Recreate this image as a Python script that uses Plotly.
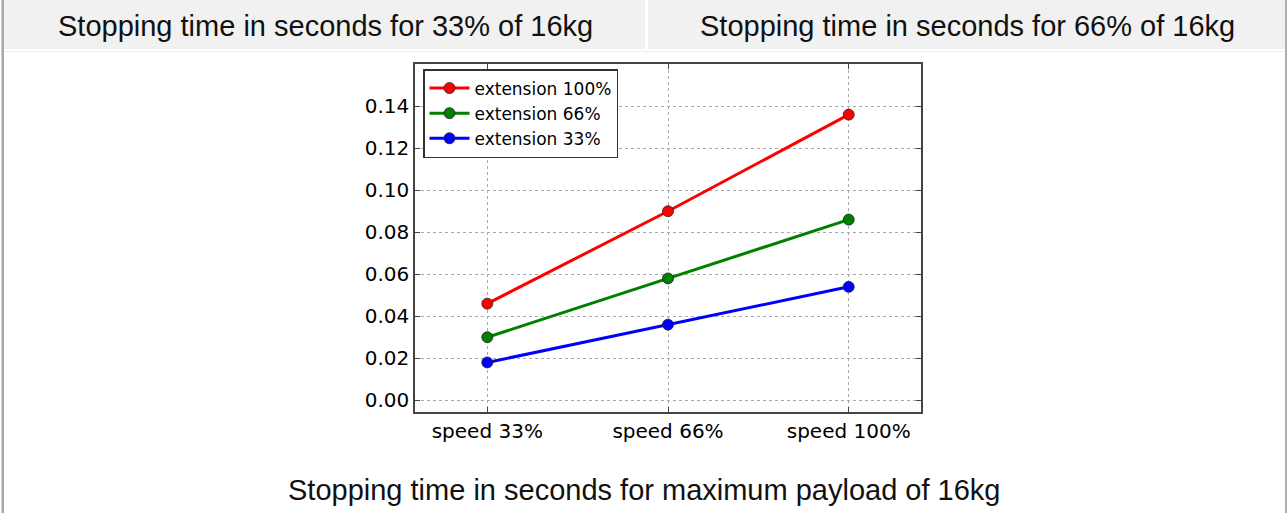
import plotly.graph_objects as go

# ---- data ----
categories = ["speed 33%", "speed 66%", "speed 100%"]
ext_100 = [0.046, 0.090, 0.136]
ext_66 = [0.030, 0.058, 0.086]
ext_33 = [0.018, 0.036, 0.054]
series_names = ["extension 100%", "extension 66%", "extension 33%"]
series_colors = ["#ff0000", "#008000", "#0000ff"]
header_left = "Stopping time in seconds for 33% of 16kg"
header_right = "Stopping time in seconds for 66% of 16kg"
caption = "Stopping time in seconds for maximum payload of 16kg"
y_ticks = [0.00, 0.02, 0.04, 0.06, 0.08, 0.10, 0.12, 0.14]

W, H = 1288, 513


def px(x):
    return x / W


def py(y):
    return 1 - y / H


fig = go.Figure()
for name, vals, col in zip(series_names, [ext_100, ext_66, ext_33], series_colors):
    fig.add_trace(go.Scatter(
        x=categories, y=vals, name=name, mode="lines+markers",
        line=dict(color=col, width=3),
        marker=dict(color=col, size=11, line=dict(color="#222222", width=0.8)),
    ))

axis_common = dict(
    showline=True, linecolor="#444444", linewidth=1.5, mirror="ticks",
    ticks="inside", ticklen=5, tickcolor="#444444", tickwidth=1,
    showgrid=True, gridcolor="#aaaaaa", gridwidth=1, griddash="dot",
    zeroline=False,
    tickfont=dict(family="DejaVu Sans", size=20, color="#000000"),
)

fig.update_layout(
    width=W, height=H, autosize=False,
    margin=dict(l=0, r=0, t=0, b=0),
    paper_bgcolor="#ffffff", plot_bgcolor="#ffffff",
    xaxis=dict(domain=[px(415), px(921)], type="category",
               range=[-0.4, 2.4], **axis_common),
    yaxis=dict(domain=[py(412), py(64)], range=[-0.0056, 0.1601],
               tickvals=y_ticks, tickformat=".2f", **axis_common),
    legend=dict(
        x=px(423), y=py(69), xanchor="left", yanchor="top",
        bgcolor="#ffffff", bordercolor="#333333", borderwidth=1.5,
        font=dict(family="DejaVu Sans", size=17, color="#000000"),
        tracegroupgap=0, itemwidth=40,
    ),
    showlegend=True,
)

shapes = [
    # header cells
    dict(type="rect", xref="paper", yref="paper", x0=px(4), x1=px(645), y0=py(49), y1=py(0),
         fillcolor="#f0f1f0", line=dict(width=0), layer="below"),
    dict(type="rect", xref="paper", yref="paper", x0=px(648), x1=px(1285), y0=py(49), y1=py(0),
         fillcolor="#f0f1f0", line=dict(width=0), layer="below"),
    # thin line under header
    dict(type="rect", xref="paper", yref="paper", x0=px(4), x1=px(1285), y0=py(52), y1=py(51),
         fillcolor="#eef0ee", line=dict(width=0), layer="below"),
    # outer borders
    dict(type="rect", xref="paper", yref="paper", x0=px(1.5), x1=px(4), y0=0, y1=1,
         fillcolor="#a8a8a8", line=dict(width=0), layer="below"),
    dict(type="rect", xref="paper", yref="paper", x0=px(1285), x1=px(1287), y0=0, y1=1,
         fillcolor="#b0b0b0", line=dict(width=0), layer="below"),
]
fig.update_layout(shapes=shapes)

text_font = dict(family="Liberation Sans, Arial", size=29, color="#111111")
fig.add_annotation(text=header_left, xref="paper", yref="paper", x=px(325), y=py(26),
                   xanchor="center", yanchor="middle", showarrow=False, font=text_font)
fig.add_annotation(text=header_right, xref="paper", yref="paper", x=px(967), y=py(26),
                   xanchor="center", yanchor="middle", showarrow=False, font=text_font)
fig.add_annotation(text=caption, xref="paper", yref="paper", x=px(644), y=py(490),
                   xanchor="center", yanchor="middle", showarrow=False, font=text_font)

fig.write_html("out.html", config={"displayModeBar": False},
               post_script="document.body.style.margin='0px';document.body.style.overflow='hidden';")
